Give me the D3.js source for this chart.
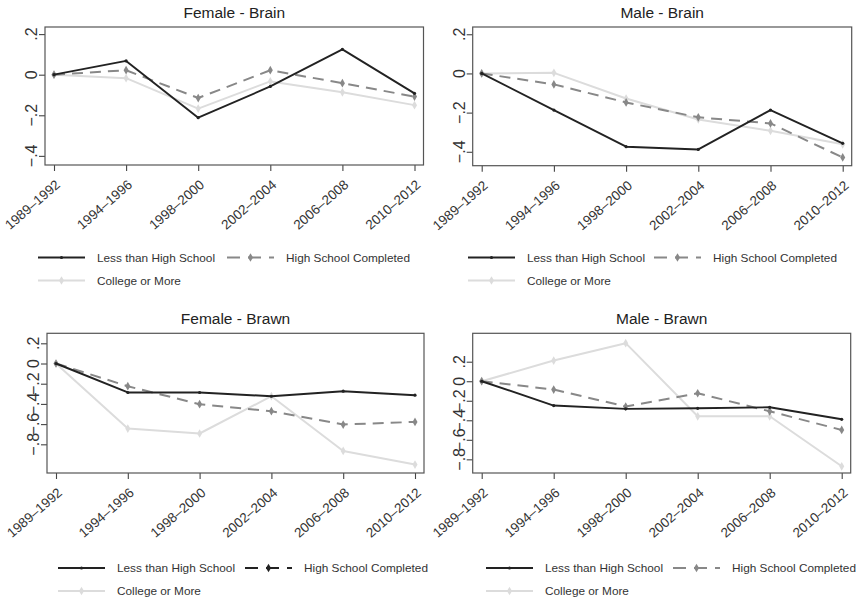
<!DOCTYPE html>
<html>
<head>
<meta charset="utf-8">
<script src="https://cdn.jsdelivr.net/npm/d3@7"></script>
<style>
  body { margin: 0; background: #fff; }
  svg { display: block; font-family: "Liberation Sans", Arial, sans-serif; }
</style>
</head>
<body>
<svg id="chart" width="860" height="602"></svg>
<script>
// Survey periods on the x axis
const periods = ["1989–1992", "1994–1996", "1998–2000", "2002–2004", "2006–2008", "2010–2012"];

// Series names (education groups)
const seriesNames = ["Less than High School", "High School Completed", "College or More"];

// Female - Brain
const femaleBrainLess    = [0, 0.068, -0.212, -0.058, 0.125, -0.092];
const femaleBrainHS      = [0, 0.022, -0.115, 0.022, -0.042, -0.108];
const femaleBrainCollege = [0, -0.017, -0.167, -0.033, -0.087, -0.150];

// Male - Brain
const maleBrainLess    = [0, -0.187, -0.374, -0.388, -0.187, -0.357];
const maleBrainHS      = [0, -0.056, -0.148, -0.224, -0.255, -0.429];
const maleBrainCollege = [0, 0.003, -0.128, -0.235, -0.293, -0.362];

// Female - Brawn
const femaleBrawnLess    = [0, -0.287, -0.287, -0.324, -0.274, -0.314];
const femaleBrawnHS      = [0, -0.225, -0.403, -0.472, -0.604, -0.578];
const femaleBrawnCollege = [0, -0.644, -0.693, -0.324, -0.866, -1.000];

// Male - Brawn
const maleBrawnLess    = [0, -0.249, -0.283, -0.277, -0.267, -0.390];
const maleBrawnHS      = [0, -0.085, -0.259, -0.123, -0.308, -0.499];
const maleBrawnCollege = [0, 0.212, 0.390, -0.359, -0.359, -0.871];

// y-axis ticks and ranges
const brainTicks = [0.2, 0, -0.2, -0.4];
const brawnTicks = [0.2, 0, -0.2, -0.4, -0.6, -0.8];
const femaleBrainRange = [-0.445, 0.235];
const maleBrainRange   = [-0.471, 0.237];
const femaleBrawnRange = [-1.084, 0.299];
const maleBrawnRange   = [-0.94, 0.491];

const panels = [
  { title: "Female - Brain", series: [femaleBrainLess, femaleBrainHS, femaleBrainCollege],
    domain: femaleBrainRange, ticks: brainTicks,
    box: { l: 45, r: 423.5, t: 27, b: 165 }, legend: { x: 38, y: 257.5, hsX: 227, hsDark: false } },
  { title: "Male - Brain", series: [maleBrainLess, maleBrainHS, maleBrainCollege],
    domain: maleBrainRange, ticks: brainTicks,
    box: { l: 472.7, r: 851.7, t: 27, b: 165.7 }, legend: { x: 468, y: 257.5, hsX: 654, hsDark: false } },
  { title: "Female - Brawn", series: [femaleBrawnLess, femaleBrawnHS, femaleBrawnCollege],
    domain: femaleBrawnRange, ticks: brawnTicks,
    box: { l: 47, r: 424, t: 333.3, b: 473 }, legend: { x: 58, y: 568, hsX: 245, hsDark: true } },
  { title: "Male - Brawn", series: [maleBrawnLess, maleBrawnHS, maleBrawnCollege],
    domain: maleBrawnRange, ticks: brawnTicks,
    box: { l: 472.7, r: 850.7, t: 333.3, b: 473 }, legend: { x: 486, y: 568, hsX: 673, hsDark: false } }
];

const styles = [
  { color: "#222", width: 1.9, dash: null, marker: "dot" },
  { color: "#888", width: 2, dash: "11,7", marker: "diamond" },
  { color: "#dcdcdc", width: 2, dash: null, marker: "diamond" }
];

const svg = d3.select("#chart");
const fmt = v => v === 0 ? "0" : (v < 0 ? "\u2212" : "") + String(Math.abs(v)).replace(/^0/, "");
const diamond = d3.symbol().type(d3.symbolDiamond).size(22);

function drawMarker(g, x, y, st, color) {
  if (st.marker === "dot") {
    g.append("circle").attr("cx", x).attr("cy", y).attr("r", 1.6).attr("fill", color);
  } else {
    g.append("path").attr("d", diamond).attr("transform", `translate(${x},${y})`).attr("fill", color);
  }
}

panels.forEach(p => {
  const g = svg.append("g");
  const b = p.box;
  const x = d3.scalePoint().domain(periods).range([b.l + 9, b.r - 9]);
  const y = d3.scaleLinear().domain(p.domain).range([b.b, b.t]);

  // title
  g.append("text").attr("x", (b.l + b.r) / 2).attr("y", b.t - 9)
    .attr("text-anchor", "middle").attr("font-size", 15.5).attr("fill", "#222").text(p.title);

  // y axis: tick marks from the axis generator, labels rotated to read upward
  const ya = g.append("g").attr("transform", `translate(${b.l},0)`)
    .call(d3.axisLeft(y).tickValues(p.ticks).tickSize(6).tickFormat(""));
  ya.select(".domain").remove();
  ya.selectAll(".tick line").attr("stroke", "#444").attr("stroke-width", 1.1);
  p.ticks.forEach(t => {
    g.append("text")
      .attr("transform", `translate(${b.l - 8},${y(t)}) rotate(-90)`)
      .attr("text-anchor", "middle")
      .attr("font-size", 16).attr("fill", "#333")
      .text(fmt(t));
  });

  // x axis: tick marks, then slanted period labels
  const xa = g.append("g").attr("transform", `translate(0,${b.b})`)
    .call(d3.axisBottom(x).tickSize(6).tickFormat(""));
  xa.select(".domain").remove();
  xa.selectAll(".tick line").attr("stroke", "#444").attr("stroke-width", 1.1);
  periods.forEach(per => {
    g.append("text")
      .attr("transform", `translate(${x(per) + 7},${b.b + 21}) rotate(-41)`)
      .attr("text-anchor", "end")
      .attr("font-size", 13.5).attr("fill", "#333")
      .text(per);
  });

  // series: draw light first so darker ones sit on top
  const line = d3.line().x((d, i) => x(periods[i])).y(d => y(d));
  [2, 1, 0].forEach(si => {
    const st = styles[si];
    const vals = p.series[si];
    g.append("path").datum(vals).attr("d", line)
      .attr("fill", "none").attr("stroke", st.color).attr("stroke-width", st.width)
      .attr("stroke-dasharray", st.dash).attr("stroke-linejoin", "round");
    vals.forEach((v, i) => drawMarker(g, x(periods[i]), y(v), st, st.color));
  });

  // plot region outline
  g.append("rect").attr("x", b.l).attr("y", b.t).attr("width", b.r - b.l).attr("height", b.b - b.t)
    .attr("fill", "none").attr("stroke", "#555").attr("stroke-width", 1.2);

  // legend
  const L = p.legend;
  const items = [
    { si: 0, x: L.x, y: L.y },
    { si: 1, x: L.hsX, y: L.y },
    { si: 2, x: L.x, y: L.y + 23 }
  ];
  items.forEach(it => {
    const st = styles[it.si];
    const col = (it.si === 1 && L.hsDark) ? "#222" : st.color;
    g.append("line").attr("x1", it.x).attr("x2", it.x + 47).attr("y1", it.y).attr("y2", it.y)
      .attr("stroke", col).attr("stroke-width", st.width)
      .attr("stroke-dasharray", st.dash ? "13,8" : null);
    drawMarker(g, it.x + 23.5, it.y, st, col);
    g.append("text").attr("x", it.x + 59).attr("y", it.y + 4.3)
      .attr("font-size", 11.8).attr("fill", "#333").text(seriesNames[it.si]);
  });
});
</script>
</body>
</html>
